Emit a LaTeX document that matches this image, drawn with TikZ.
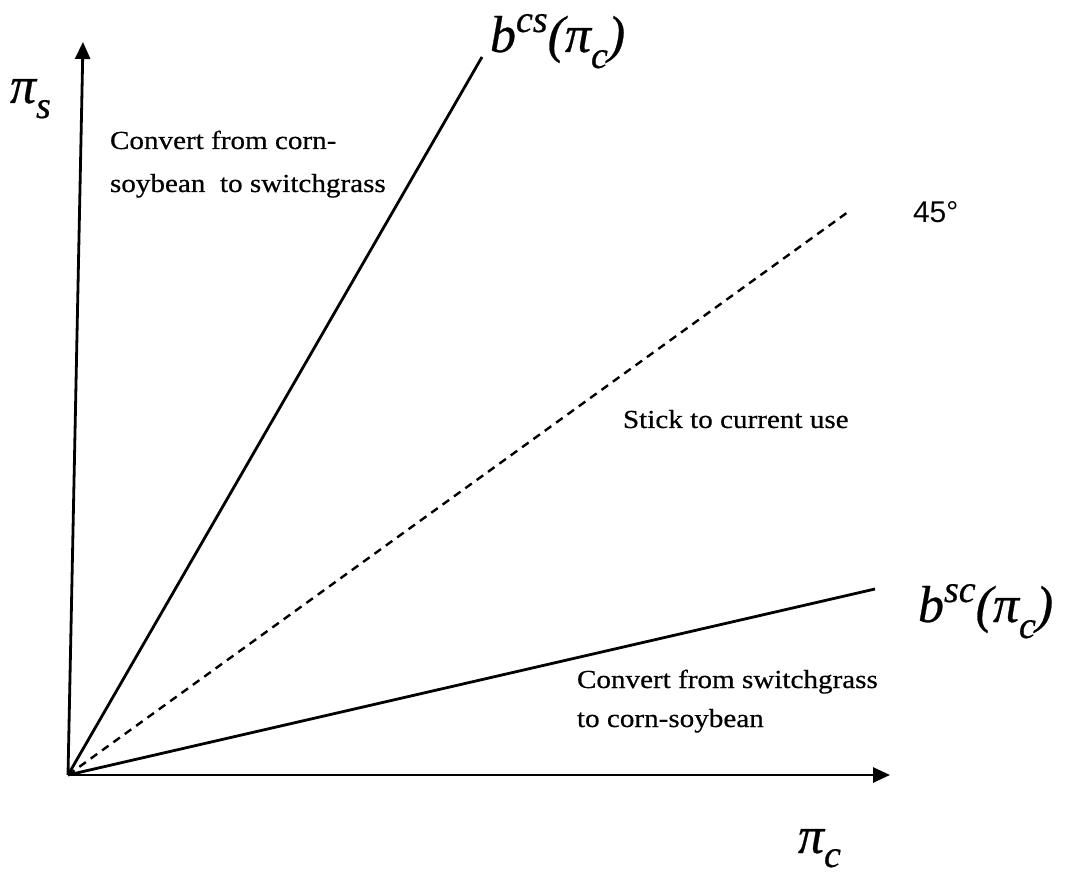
\documentclass[tikz,border=0pt]{standalone}
\usepackage{fontspec}
\setmainfont{Liberation Serif}
\newfontfamily\sansf{Liberation Sans}
\newfontfamily\heavyserif[FakeBold=0.5]{Liberation Serif}
\usetikzlibrary{arrows.meta}
\newcommand{\bigmath}{\fontsize{52}{52}\selectfont\itshape}
\newcommand{\scriptm}{\fontsize{38}{38}\selectfont\itshape}
\newcommand{\wtxt}[1]{\scalebox{1.12}[1]{\heavyserif\fontsize{26}{26}\selectfont #1}}
\begin{document}
\begin{tikzpicture}[x=1pt,y=-1pt,
  axis/.style={line width=2.8pt,-{Triangle[length=17pt,width=15pt]}},
  bline/.style={line width=2.8pt},
  dline/.style={line width=2.4pt,dash pattern=on 8pt off 6pt},
  lbl/.style={anchor=base west,inner sep=0pt,outer sep=0pt,font=\heavyserif},
  region/.style={anchor=base west,inner sep=0pt,outer sep=0pt}]
\useasboundingbox (0,0) rectangle (1071,874);
\coordinate (O) at (68,775);
\coordinate (Ytip) at (83,42);
\coordinate (Xtip) at (890,775);
\coordinate (Bcs) at (482,57);
\coordinate (D45) at (848,212);
\coordinate (Bsc) at (875,589);
\draw[bline] (O) -- (Bcs);
\draw[bline] (O) -- (Bsc);
\draw[dline] (O) -- (D45);
\draw[axis] (O) -- (Ytip);
\draw[axis] (O) -- (Xtip);
% labels
\node[lbl] (pis) at (10,103) {\bigmath π\raisebox{-15pt}{\scriptm s}};
\node[lbl] (pic) at (798,853) {\bigmath π\raisebox{-14pt}{\scriptm c}};
\node[lbl] (bcs) at (490,52) {\bigmath b\raisebox{20pt}{\scriptm cs}(π\raisebox{-16pt}{\scriptm c})};
\node[lbl] (bsc) at (918,622) {\bigmath b\raisebox{20pt}{\scriptm sc}(π\raisebox{-16pt}{\scriptm c})};
\node[lbl,font=\sansf\fontsize{30}{30}\selectfont] (deg) at (913,223) {45°};
\node[region] (r1a) at (110,149) {\wtxt{Convert from corn-}};
\node[region] (r1b) at (110,192) {\wtxt{soybean\ \ to switchgrass}};
\node[region] (r2) at (623,428) {\wtxt{Stick to current use}};
\node[region] (r3a) at (577,688) {\wtxt{Convert from switchgrass}};
\node[region] (r3b) at (577,727) {\wtxt{to corn-soybean}};
\end{tikzpicture}
\end{document}
